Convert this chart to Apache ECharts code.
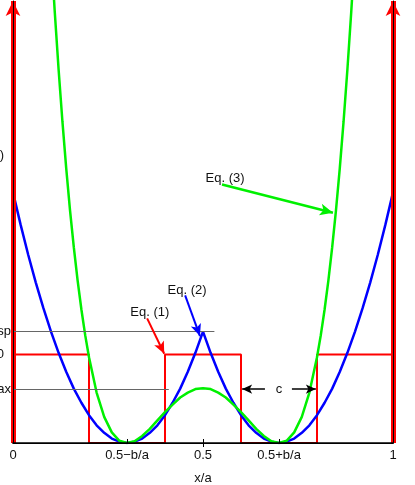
<!DOCTYPE html>
<html><head><meta charset="utf-8">
<script src="https://cdn.jsdelivr.net/npm/echarts@6/dist/echarts.min.js"></script>
<style>html,body{margin:0;padding:0;background:#fff}#c{width:415px;height:485px}</style>
</head><body><div id="c"></div>
<script>
// tick positions and labels (x/a)
const tickValues = [0, 0.3, 0.5, 0.7, 1];
const tickLabels = ['0', '0.5\u2212b/a', '0.5', '0.5+b/a', '1'];

// Eq. (1): step potential (red)
const stepX = [0, 0.2, 0.2, 0.4, 0.4, 0.6, 0.6, 0.8, 0.8, 1];
const stepY = [2, 2, 0, 0, 2, 2, 0, 0, 2, 2];

// Eq. (2): blue double parabola
const blueX = [0,0.02,0.04,0.06,0.08,0.10,0.12,0.14,0.16,0.18,0.20,0.22,0.24,0.26,0.28,0.30,0.32,0.34,0.36,0.38,0.40,0.42,0.44,0.46,0.48,0.50,
               0.52,0.54,0.56,0.58,0.60,0.62,0.64,0.66,0.68,0.70,0.72,0.74,0.76,0.78,0.80,0.82,0.84,0.86,0.88,0.90,0.92,0.94,0.96,0.98,1];
const blueY = [5.67,4.94,4.26,3.63,3.05,2.52,2.04,1.61,1.23,0.91,0.63,0.40,0.23,0.10,0.03,0,0.03,0.10,0.23,0.40,0.63,0.91,1.23,1.61,2.04,2.52,
               2.04,1.61,1.23,0.91,0.63,0.40,0.23,0.10,0.03,0,0.03,0.10,0.23,0.40,0.63,0.91,1.23,1.61,2.04,2.52,3.05,3.63,4.26,4.94,5.67];

// Eq. (3): green double well
const greenX = [0.105,0.11,0.12,0.13,0.14,0.15,0.16,0.17,0.18,0.19,0.20,0.22,0.24,0.26,0.28,0.30,0.32,0.34,0.36,0.38,0.40,0.42,0.44,0.46,0.48,0.50,
                0.52,0.54,0.56,0.58,0.60,0.62,0.64,0.66,0.68,0.70,0.72,0.74,0.76,0.78,0.80,0.81,0.82,0.83,0.84,0.85,0.86,0.87,0.88,0.89,0.895];
const greenY = [10.44,9.74,8.45,7.28,6.22,5.27,4.43,3.68,3.02,2.44,1.94,1.14,0.59,0.24,0.05,0,0.04,0.16,0.32,0.51,0.70,0.87,1.03,1.14,1.22,1.24,
                1.22,1.14,1.03,0.87,0.70,0.51,0.32,0.16,0.04,0,0.05,0.24,0.59,1.14,1.94,2.44,3.02,3.68,4.43,5.27,6.22,7.28,8.45,9.74,10.44];

// reference energy levels
const eSp = 2.53;
const eMax = 1.22;

const zip = (a, b) => a.map((v, i) => [v, b[i]]);
const FONT = '"Liberation Sans", Arial, sans-serif';

const chart = echarts.init(document.getElementById('c'), null, {renderer: 'canvas'});

function seg(x1, y1, x2, y2, color, width, headSize) {
  return [
    {coord: [x1, y1], symbol: 'none', lineStyle: {color: color, width: width, type: 'solid'}},
    {coord: [x2, y2], symbol: headSize ? 'arrow' : 'none', symbolSize: headSize || 0}
  ];
}

chart.setOption({
  animation: false,
  grid: {left: 13, right: 22, top: 1, bottom: 42, outerBoundsMode: 'none', containLabel: false},
  xAxis: [{
    type: 'value', min: 0, max: 1, position: 'bottom', z: 10,
    axisLine: {lineStyle: {color: '#000', width: 1}},
    axisTick: {inside: true, length: 4, customValues: [0.3, 0.5, 0.7], lineStyle: {color: '#000'}},
    axisLabel: {customValues: tickValues, formatter: v => tickLabels[tickValues.indexOf(v)] || '',
      color: '#111', fontFamily: FONT, fontSize: 13, margin: 6},
    splitLine: {show: false},
    name: 'x/a', nameLocation: 'middle', nameGap: 29,
    nameTextStyle: {color: '#111', fontFamily: FONT, fontSize: 13}
  }, {
    type: 'value', min: 0, max: 1, position: 'top', z: 10,
    axisLine: {lineStyle: {color: '#000', width: 1.5}},
    axisTick: {inside: true, length: 4, customValues: [0.5], lineStyle: {color: '#000'}},
    axisLabel: {show: false}, splitLine: {show: false}
  }],
  yAxis: [{
    type: 'value', min: 0, max: 10, position: 'left', z: 10,
    axisLine: {show: true, onZero: false, lineStyle: {color: '#000', width: 1}},
    axisTick: {show: false}, axisLabel: {show: false}, splitLine: {show: false}
  }, {
    type: 'value', min: 0, max: 10, position: 'right', z: 10,
    axisLine: {show: true, onZero: false, lineStyle: {color: '#000', width: 1}},
    axisTick: {show: false}, axisLabel: {show: false}, splitLine: {show: false}
  }],
  series: [
    {
      type: 'line', name: 'Eq1', data: zip(stepX, stepY), showSymbol: false, z: 2,
      lineStyle: {color: '#ff0000', width: 2}, itemStyle: {color: '#ff0000'},
      markLine: {
        silent: true, animation: false, label: {show: false},
        data: [
          seg(0, 0, 0, 10, '#ff0000', 5, [11, 15]),
          seg(1, 0, 1, 10, '#ff0000', 5, [11, 15]),
          seg(0, eSp, 0.53, eSp, '#666666', 1),
          seg(0, eMax, 0.41, eMax, '#666666', 1)
        ]
      }
    },
    {
      type: 'line', name: 'Eq2', data: zip(blueX, blueY), showSymbol: false, z: 3,
      lineStyle: {color: '#0000ff', width: 2.5}, itemStyle: {color: '#0000ff'}
    },
    {
      type: 'line', name: 'Eq3', data: zip(greenX, greenY), showSymbol: false, z: 4,
      lineStyle: {color: '#00f000', width: 2.5}, itemStyle: {color: '#00f000'}
    },
    {
      type: 'line', name: 'ann', data: [], z: 6,
      markLine: {
        silent: true, animation: false, label: {show: false},
        data: [
          seg(0.353, 2.82, 0.398, 2.02, '#ff0000', 2, [8, 12]),
          seg(0.453, 3.34, 0.492, 2.42, '#0000ff', 2, [8, 12]),
          seg(0.550, 5.85, 0.842, 5.21, '#00f000', 2.5, [9, 13]),
          seg(0.663, eMax, 0.603, eMax, '#000000', 1.5, [7, 10]),
          seg(0.734, eMax, 0.797, eMax, '#000000', 1.5, [7, 10])
        ]
      }
    }
  ]
});

// text annotations placed in data coordinates
const notes = [
  {x: 0.36, y: 2.96, text: 'Eq. (1)'},
  {x: 0.458, y: 3.45, text: 'Eq. (2)'},
  {x: 0.558, y: 5.98, text: 'Eq. (3)'},
  {x: 0.70, y: eMax, text: 'c'}
];
const sideLabels = [
  {y: 6.5, text: 'E(x)', right: 4},
  {y: eSp, text: 'Esp', right: 11},
  {y: 2.0, text: 'V0', right: 4},
  {y: eMax, text: 'Emax', right: 11}
];
const g = [];
notes.forEach(n => {
  const p = chart.convertToPixel({gridIndex: 0}, [n.x, n.y]);
  g.push({type: 'text', x: p[0], y: p[1], z: 20,
    style: {text: n.text, fill: '#111', font: '13px ' + FONT, align: 'center', verticalAlign: 'middle'}});
});
sideLabels.forEach(s => {
  const p = chart.convertToPixel({gridIndex: 0}, [0, s.y]);
  g.push({type: 'text', x: s.right, y: p[1], z: 20,
    style: {text: s.text, fill: '#111', font: '13px ' + FONT, align: 'right', verticalAlign: 'middle'}});
});
chart.setOption({graphic: g});
</script>
</body></html>
